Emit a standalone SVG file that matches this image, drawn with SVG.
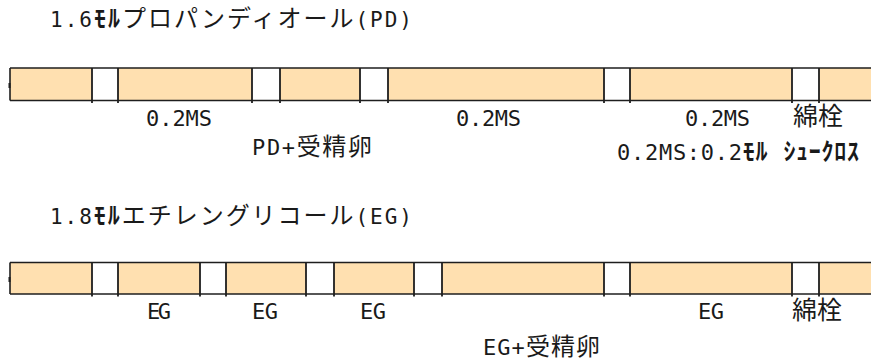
<svg xmlns="http://www.w3.org/2000/svg" width="871" height="363" viewBox="0 0 871 363">
<style>
  .fill { fill: #FFE0B0; stroke: none; }
  .gap { fill: #FFFFFF; stroke: none; }
  .edge { stroke: #1E1E1E; stroke-width: 1.6; fill: none; }
  .div { stroke: #1E1E1E; stroke-width: 1.8; fill: none; }
  .t { font-family: "DejaVu Sans Mono", "Noto Sans CJK JP", monospace; fill: #1A1A1A; }
  .title { font-size: 21px; }
  .lbl { font-size: 22px; }
  .cjk { font-size: 25px; }
  .big { font-size: 24px; }
  .kt { font-size: 24px; }
  .hw { font-weight: bold; }
</style>
<rect width="871" height="363" fill="#FFFFFF"/>

<g id="bar-pd">
  <rect class="fill" x="10" y="68" width="861" height="32.5"/>
  <rect class="gap" x="92" y="68" width="26" height="32.5"/>
  <rect class="gap" x="252" y="68" width="28" height="32.5"/>
  <rect class="gap" x="360" y="68" width="28" height="32.5"/>
  <rect class="gap" x="604" y="68" width="26" height="32.5"/>
  <rect class="gap" x="792" y="68" width="27" height="32.5"/>
  <line class="edge" x1="10" y1="68" x2="871" y2="68"/>
  <line class="edge" x1="10" y1="100.5" x2="871" y2="100.5"/>
  <line class="edge" x1="10" y1="68" x2="10" y2="100.5"/>
  <rect x="8.5" y="83" width="2" height="5" fill="#1E1E1E"/>
  <path class="div" d="M92 68V103M118 68V103M252 68V103M280 68V103M360 68V103M388 68V103M604 68V103M630 68V103M792 68V103M819 68V103"/>
</g>

<g id="bar-eg">
  <rect class="fill" x="10" y="262.5" width="861" height="31.5"/>
  <rect class="gap" x="92" y="262.5" width="26" height="31.5"/>
  <rect class="gap" x="200" y="262.5" width="26" height="31.5"/>
  <rect class="gap" x="306" y="262.5" width="28" height="31.5"/>
  <rect class="gap" x="414" y="262.5" width="28" height="31.5"/>
  <rect class="gap" x="604" y="262.5" width="26" height="31.5"/>
  <rect class="gap" x="792" y="262.5" width="27" height="31.5"/>
  <line class="edge" x1="10" y1="262.5" x2="871" y2="262.5"/>
  <line class="edge" x1="10" y1="294" x2="871" y2="294"/>
  <line class="edge" x1="10" y1="262.5" x2="10" y2="294"/>
  <rect x="8.5" y="277" width="2" height="5" fill="#1E1E1E"/>
  <path class="div" d="M92 262.5V296.5M118 262.5V296.5M200 262.5V296.5M226 262.5V296.5M306 262.5V296.5M334 262.5V296.5M414 262.5V296.5M442 262.5V296.5M604 262.5V296.5M630 262.5V296.5M792 262.5V296.5M819 262.5V296.5"/>
</g>

<g id="labels-pd">
  <text class="t title" x="50" y="27" textLength="362" lengthAdjust="spacing">1.6<tspan class="kt"><tspan class="hw">ﾓﾙ</tspan>プロパンディオール</tspan>(PD)</text>
  <text class="t lbl" x="146" y="126" textLength="66" lengthAdjust="spacing">0.2MS</text>
  <text class="t lbl" x="456" y="126" textLength="65" lengthAdjust="spacing">0.2MS</text>
  <text class="t lbl" x="685" y="126" textLength="65" lengthAdjust="spacing">0.2MS</text>
  <text class="t cjk" x="793" y="125">綿栓</text>
  <text class="t lbl" x="252" y="155" textLength="120" lengthAdjust="spacing">PD+<tspan class="big">受精卵</tspan></text>
  <text class="t lbl" x="617" y="160" textLength="242" lengthAdjust="spacing">0.2MS:0.2<tspan class="big hw">ﾓﾙ ｼｭｰｸﾛｽ</tspan></text>
</g>

<g id="labels-eg">
  <text class="t title" x="50" y="224" textLength="362" lengthAdjust="spacing">1.8<tspan class="kt"><tspan class="hw">ﾓﾙ</tspan>エチレングリコール</tspan>(EG)</text>
  <text class="t lbl" x="147" y="319" textLength="24" lengthAdjust="spacing">EG</text>
  <text class="t lbl" x="252" y="319" textLength="26" lengthAdjust="spacing">EG</text>
  <text class="t lbl" x="360" y="319" textLength="26" lengthAdjust="spacing">EG</text>
  <text class="t lbl" x="698" y="319" textLength="26" lengthAdjust="spacing">EG</text>
  <text class="t cjk" x="792" y="319">綿栓</text>
  <text class="t lbl" x="483" y="355" textLength="117" lengthAdjust="spacing">EG+<tspan class="big">受精卵</tspan></text>
</g>
</svg>
